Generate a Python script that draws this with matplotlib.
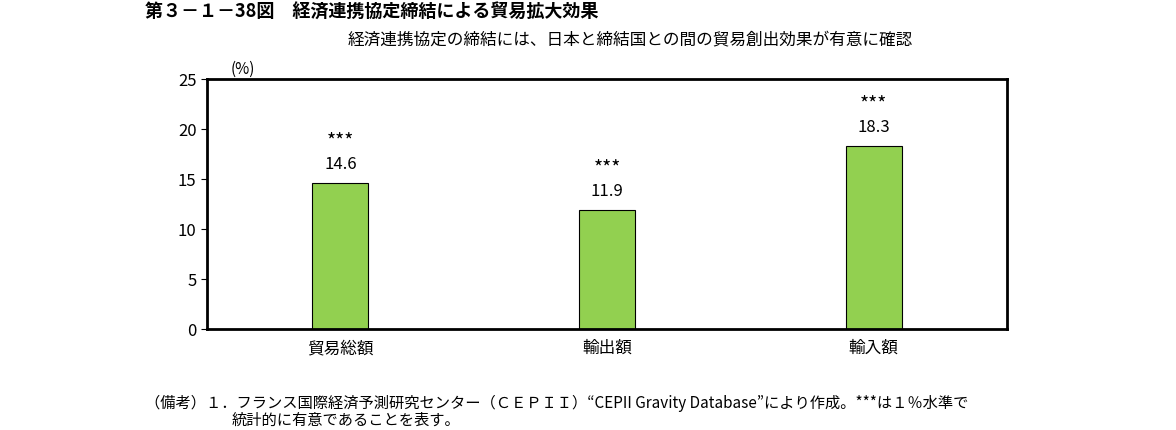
import matplotlib
matplotlib.use("Agg")
import matplotlib.pyplot as plt

plt.rcParams['font.family'] = ['Noto Sans CJK JP', 'DejaVu Sans']

categories = ["貿易総額", "輸出額", "輸入額"]
values = [14.6, 11.9, 18.3]
sig = ["***", "***", "***"]
yticks = [0, 5, 10, 15, 20, 25]

fig = plt.figure(figsize=(11.76, 4.3), dpi=100)
ax = fig.add_axes([207/1176, 1-329/430, 800/1176, 250/430])
x = range(len(categories))
ax.bar(x, values, width=0.21, color="#92d050", edgecolor="black", linewidth=0.8)
for i, v in enumerate(values):
    ax.text(i, v + 1.0, f"{v:.1f}", ha="center", va="bottom", fontsize=12)
    ax.text(i, v + 3.0, sig[i], ha="center", va="bottom", fontsize=14)
ax.set_xlim(-0.5, 2.5)
ax.set_ylim(0, 25)
ax.set_yticks(yticks)
ax.set_xticks(list(x))
ax.set_xticklabels(categories, fontsize=12)
ax.tick_params(axis='y', labelsize=12, direction='out', length=4)
ax.tick_params(axis='x', length=0, pad=8)
for s in ax.spines.values():
    s.set_linewidth(2)
ax.text(0.03, 1.005, "(%)", transform=ax.transAxes, fontsize=11, va="bottom")

fig.text(145/1176, 1-12/430, "第３－１－38図　経済連携協定締結による貿易拡大効果", fontsize=13, fontweight="bold", va="center")
fig.text(630/1176, 1-40/430, "経済連携協定の締結には、日本と締結国との間の貿易創出効果が有意に確認", fontsize=12, ha="center", va="center")
fig.text(145/1176, 1-403/430, "（備考）１．フランス国際経済予測研究センター（ＣＥＰＩＩ）“CEPII Gravity Database”により作成。***は１％水準で", fontsize=11, va="center")
fig.text(232/1176, 1-420/430, "統計的に有意であることを表す。", fontsize=11, va="center")
fig.savefig("out.png", dpi=100)
